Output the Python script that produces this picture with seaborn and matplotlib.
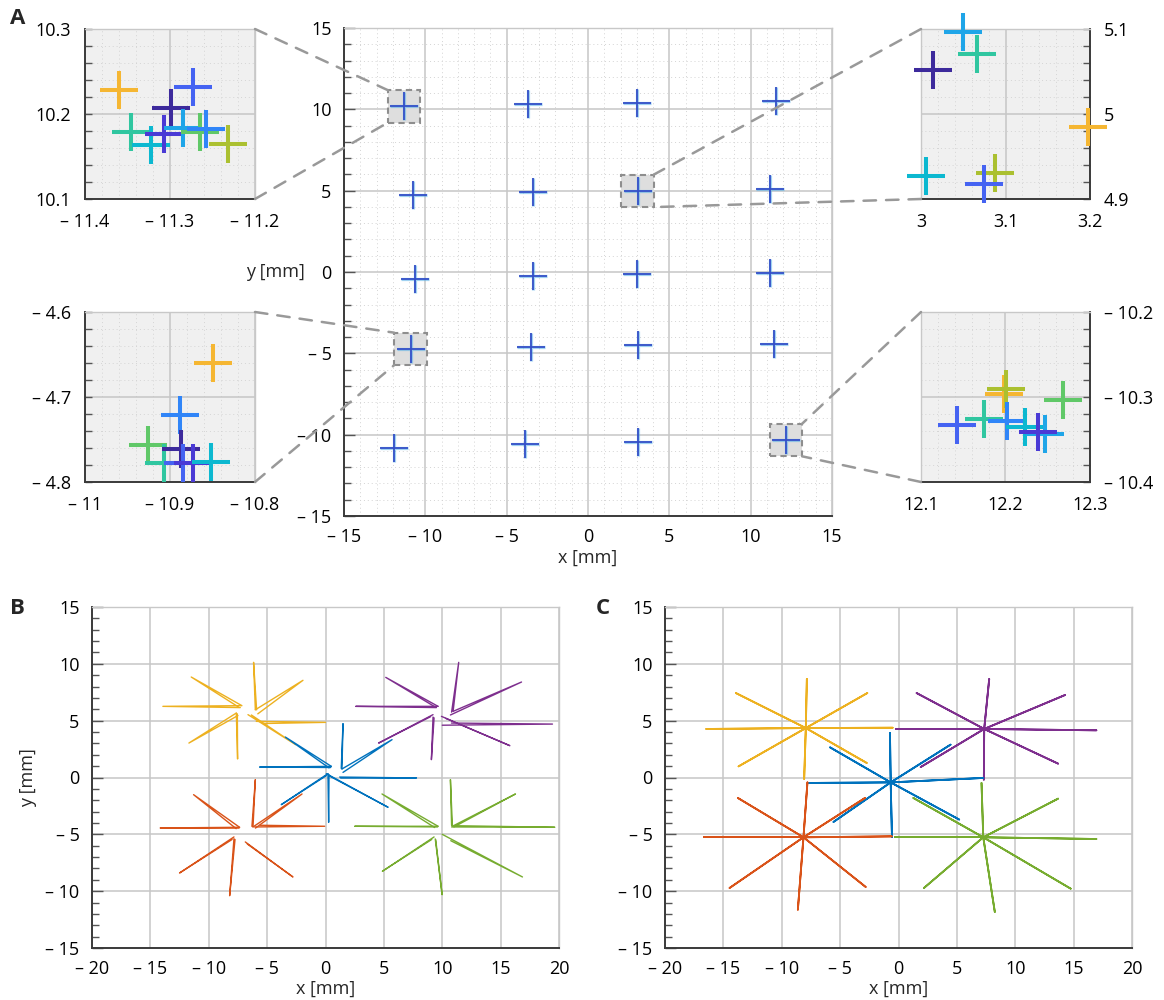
import numpy as np
import matplotlib
matplotlib.use("Agg")
import matplotlib.pyplot as plt
import seaborn as sns
import pandas as pd
from matplotlib.patches import Rectangle, ConnectionPatch
from matplotlib.ticker import MultipleLocator, FixedLocator, FuncFormatter

sns.set_theme(style="white")
plt.rcParams["font.family"] = ["Open Sans", "DejaVu Sans"]

# ---------------- data ----------------
# Panel A: mean positions of the 20 grid targets (mm)
grid_x = [-11.30, -3.71, 2.99, 11.54, -10.74, -3.40, 3.05, 11.19, -10.62, -3.40,
          2.99, 11.19, -10.90, -3.52, 3.05, 11.43, -11.93, -3.87, 3.09, 12.18]
grid_y = [10.18, 10.31, 10.39, 10.51, 4.73, 4.92, 5.00, 5.08, -0.43, -0.23,
          -0.14, -0.08, -4.76, -4.63, -4.49, -4.43, -10.84, -10.59, -10.43, -10.32]

# measurement colours (parula-like)
meas_colors = ["#3d2a9c", "#4a3ad5", "#4563f2", "#3085f8", "#1fa5e8",
               "#0cb8d0", "#30c6a0", "#60c868", "#abc030", "#f5b632"]

# zoomed groups: x, y, measurement index
tl_x = [-11.360, -11.346, -11.322, -11.307, -11.299, -11.285, -11.273, -11.265, -11.258, -11.232]
tl_y = [10.228, 10.179, 10.164, 10.176, 10.207, 10.184, 10.232, 10.179, 10.182, 10.165]
tl_c = [9, 6, 5, 1, 0, 4, 2, 7, 3, 8]

bl_x = [-10.849, -10.888, -10.926, -10.907, -10.887, -10.885, -10.873, -10.852]
bl_y = [-4.660, -4.721, -4.757, -4.778, -4.761, -4.778, -4.778, -4.776]
bl_c = [9, 3, 7, 6, 0, 2, 1, 5]

tr_x = [3.050, 3.066, 3.014, 3.198, 3.006, 3.088, 3.075]
tr_y = [5.097, 5.071, 5.052, 4.985, 4.927, 4.931, 4.918]
tr_c = [4, 6, 0, 9, 5, 8, 2]

br_x = [12.198, 12.201, 12.268, 12.174, 12.143, 12.202, 12.223, 12.247, 12.239]
br_y = [-10.297, -10.291, -10.303, -10.326, -10.333, -10.328, -10.335, -10.343, -10.341]
br_c = [9, 8, 7, 6, 2, 3, 5, 4, 1]

# zoom-box centres in panel A main plot
box_cx = [-11.31, 3.05, -10.92, 12.16]
box_cy = [10.18, 4.99, -4.73, -10.33]

star_colors = {"blue": "#0072BD", "red": "#D95319", "yellow": "#EDB120",
               "purple": "#7E2F8E", "green": "#77AC30"}

# Panel B: each ray = start -> tip -> return (x and y lists per star)
B_yellow_sx = [-6.01, -6.01, -5.93, -6.64, -7.64, -7.64, -7.21, -7.16]
B_yellow_sy = [5.96, 5.96, 4.94, 5.53, 5.67, 5.67, 6.32, 6.32]
B_yellow_tx = [-6.16, -1.93, 0.00, -2.56, -7.53, -11.70, -13.93, -11.50]
B_yellow_ty = [10.13, 8.55, 4.85, 2.89, 1.63, 3.03, 6.26, 8.84]
B_yellow_rx = [-5.90, -5.80, -5.30, -6.35, -7.55, -7.50, -7.30, -7.45]
B_yellow_ry = [5.95, 5.60, 4.75, 5.50, 5.60, 5.45, 6.15, 6.20]

B_purple_sx = [10.93, 10.93, 10.79, 9.93, 9.21, 9.21, 9.64, 9.64]
B_purple_sy = [5.82, 5.82, 4.79, 5.38, 5.32, 5.53, 6.26, 6.26]
B_purple_tx = [11.41, 16.79, 19.44, 15.79, 9.07, 4.55, 2.59, 5.16]
B_purple_ty = [10.13, 8.40, 4.70, 2.80, 1.57, 3.03, 6.26, 8.81]
B_purple_rx = [10.80, 10.70, 10.00, 10.30, 9.30, 9.00, 9.50, 9.40]
B_purple_ry = [5.75, 5.50, 4.60, 5.20, 5.25, 5.35, 6.15, 6.20]

B_blue_sx = [1.41, 1.41, 1.21, 0.07, 0.21, 0.21, 0.50, 0.50]
B_blue_sy = [0.75, 0.75, 0.04, 0.34, 0.34, 0.34, 0.98, 0.98]
B_blue_tx = [1.50, 5.70, 7.79, 5.36, 0.27, -3.79, -5.64, -3.44]
B_blue_ty = [4.74, 3.33, -0.04, -2.62, -3.94, -2.39, 0.92, 3.56]
B_blue_rx = [1.35, 1.50, 1.30, 0.30, 0.30, 0.05, 0.45, 0.30]
B_blue_ry = [0.80, 0.45, -0.05, 0.15, 0.25, 0.15, 0.88, 0.85]

B_red_sx = [-6.21, -6.21, -6.07, -6.87, -7.84, -7.84, -7.36, -7.36]
B_red_sy = [-4.35, -4.35, -4.35, -5.67, -5.38, -5.23, -4.38, -4.38]
B_red_tx = [-6.01, -2.01, -0.07, -2.79, -8.21, -12.50, -14.16, -11.30]
B_red_ty = [-0.19, -1.45, -4.29, -8.75, -10.40, -8.40, -4.44, -1.51]
B_red_rx = [-6.30, -6.00, -5.60, -6.70, -7.75, -8.00, -7.40, -7.65]
B_red_ry = [-4.30, -4.45, -4.20, -5.85, -5.45, -5.45, -4.45, -4.50]

B_green_sx = [10.87, 10.87, 11.07, 10.73, 9.44, 9.30, 9.64, 9.64]
B_green_sy = [-4.29, -4.29, -4.24, -5.56, -5.47, -5.23, -4.29, -4.29]
B_green_tx = [10.70, 16.27, 19.64, 16.87, 9.99, 4.87, 2.50, 4.84]
B_green_ty = [-0.19, -1.45, -4.38, -8.75, -10.31, -8.25, -4.29, -1.45]
B_green_rx = [10.80, 11.00, 10.80, 10.00, 9.40, 9.10, 9.60, 9.35]
B_green_ry = [-4.20, -4.35, -4.35, -5.00, -5.40, -5.45, -4.35, -4.40]

# Panel C: centre and tips of each star
C_yellow_c = (-7.94, 4.35)
C_yellow_tx = [-7.85, -2.67, -0.50, -2.72, -8.08, -13.70, -16.47, -13.93]
C_yellow_ty = [8.67, 7.43, 4.38, 1.28, -0.13, 0.98, 4.27, 7.43]
C_purple_c = (7.34, 4.27)
C_purple_tx = [7.77, 14.27, 16.95, 13.67, 7.31, 1.90, -0.21, 1.55]
C_purple_ty = [8.67, 7.26, 4.15, 1.22, -0.19, 0.92, 4.27, 7.43]
C_blue_c = (-0.67, -0.43)
C_blue_tx = [-0.73, 4.46, 7.26, 5.20, -0.56, -5.57, -7.71, -5.86]
C_blue_ty = [3.91, 2.89, -0.04, -3.70, -5.23, -3.91, -0.48, 2.65]
C_red_c = (-8.14, -5.26)
C_red_tx = [-7.80, -2.87, -0.58, -2.81, -8.62, -14.47, -16.64, -13.76]
C_red_ty = [-0.43, -1.80, -5.18, -9.63, -11.63, -9.72, -5.26, -1.80]
C_green_c = (7.26, -5.26)
C_green_tx = [7.11, 13.67, 16.95, 14.75, 8.25, 2.18, -0.30, 1.27]
C_green_ty = [-0.48, -1.86, -5.41, -9.78, -11.83, -9.72, -5.26, -1.80]

# ---------------- helpers ----------------
W, H = 1164, 1000
fig = plt.figure(figsize=(W / 100, H / 100), dpi=100)


def rect(x0, y0, x1, y1):
    return [x0 / W, 1 - y1 / H, (x1 - x0) / W, (y1 - y0) / H]


def fmt(v, pos=None):
    s = "%g" % round(abs(v), 6)
    return ("\u2013 " + s) if v < -1e-9 else s


DARK = "#3a3a3a"
LIGHT = "#c8c8c8"
FS = 13


def style(ax, xlim, ylim, xt, yt, xminor, yminor, face="white", dotted=True,
          right=False, pad=9):
    ax.set_facecolor(face)
    ax.set_xlim(xlim)
    ax.set_ylim(ylim)
    ax.xaxis.set_major_locator(FixedLocator(xt))
    ax.yaxis.set_major_locator(FixedLocator(yt))
    ax.xaxis.set_minor_locator(MultipleLocator(xminor))
    ax.yaxis.set_minor_locator(MultipleLocator(yminor))
    ax.xaxis.set_major_formatter(FuncFormatter(fmt))
    ax.yaxis.set_major_formatter(FuncFormatter(fmt))
    ax.grid(True, which="major", color="#c6c6c6", lw=1.1, ls="-")
    if dotted:
        ax.grid(True, which="minor", color="#d4d4d4", lw=0.7, ls=(0, (1, 3)))
    ax.set_axisbelow(True)
    for sp in ax.spines.values():
        sp.set_color(LIGHT)
        sp.set_linewidth(1.0)
        sp.set_visible(True)
    ax.spines["bottom"].set_color(DARK)
    ax.spines["bottom"].set_linewidth(1.4)
    side = "right" if right else "left"
    ax.spines[side].set_color(DARK)
    ax.spines[side].set_linewidth(1.4)
    if right:
        ax.yaxis.tick_right()
    ax.tick_params(which="both", direction="in", color="#555555", labelsize=FS,
                   labelcolor="black", pad=pad, top=False,
                   left=not right, right=right)
    ax.tick_params(which="major", length=8, width=1.0)
    ax.tick_params(which="minor", length=5, width=1.0)
    ax.set_xlabel("")
    ax.set_ylabel("")


# ---------------- Panel A ----------------
axA = fig.add_axes(rect(344, 28, 832, 516))
style(axA, (-15, 15), (-15, 15), [-15, -10, -5, 0, 5, 10, 15],
      [-15, -10, -5, 0, 5, 10, 15], 1, 1)
for cx, cy in zip(box_cx, box_cy):
    axA.add_patch(Rectangle((cx - 1.0, cy - 1.0), 2.0, 2.0, facecolor="#dedede",
                            edgecolor="#8e8e8e", lw=1.5, ls=(0, (3, 2)), zorder=2))
sns.scatterplot(x=grid_x, y=grid_y, marker="+", s=380, color="#55aee6",
                linewidth=2.3, alpha=0.55, ax=axA, legend=False, zorder=3)
sns.scatterplot(x=grid_x, y=grid_y, marker="+", s=380, color="#3450c8",
                linewidth=1.3, ax=axA, legend=False, zorder=4)
axA.set_xlabel("x [mm]", fontsize=FS, labelpad=2)
axA.text(-0.14, 0.5, "y [mm]", transform=axA.transAxes, fontsize=FS,
         ha="center", va="center")

insets = [
    (rect(85, 29, 255, 199), (-11.4, -11.2), (10.1, 10.3), [-11.4, -11.3, -11.2], [10.1, 10.2, 10.3],
     tl_x, tl_y, tl_c, False, [(1, 1), (1, 0)], [(-1, 1), (-1, -1)], 0),
    (rect(85, 312, 255, 482), (-11.0, -10.8), (-4.8, -4.6), [-11.0, -10.9, -10.8], [-4.8, -4.7, -4.6],
     bl_x, bl_y, bl_c, False, [(1, 1), (1, 0)], [(-1, 1), (-1, -1)], 2),
    (rect(921, 29, 1090, 199), (3.0, 3.2), (4.9, 5.1), [3.0, 3.1, 3.2], [4.9, 5.0, 5.1],
     tr_x, tr_y, tr_c, True, [(0, 1), (0, 0)], [(1, 1), (1, -1)], 1),
    (rect(921, 312, 1090, 482), (12.1, 12.3), (-10.4, -10.2), [12.1, 12.2, 12.3], [-10.4, -10.3, -10.2],
     br_x, br_y, br_c, True, [(0, 1), (0, 0)], [(1, 1), (1, -1)], 3),
]
for r, xl, yl, xt, yt, xs, ys, cs, right, cA, cB, bi in insets:
    ax = fig.add_axes(r)
    style(ax, xl, yl, xt, yt, 0.02, 0.02, face="#f0f0f0", right=right, pad=10)
    ax.tick_params(which="major", length=5)
    df = pd.DataFrame({"x": xs, "y": ys, "m": cs})
    for _, row in df.iterrows():
        sns.scatterplot(x=[row.x], y=[row.y], marker="+", s=740,
                        color=meas_colors[int(row.m)], linewidth=2.9,
                        ax=ax, legend=False, clip_on=False, zorder=5)
    ax.set_xlim(xl)
    ax.set_ylim(yl)
    for (fa, (sx, sy)) in zip(cA, cB):
        con = ConnectionPatch(xyA=fa, coordsA=ax.transAxes,
                              xyB=(box_cx[bi] + sx * 1.0, box_cy[bi] + sy * 1.0),
                              coordsB=axA.transData, color="#999999", lw=1.8,
                              ls=(0, (5, 4)), zorder=10)
        fig.add_artist(con)

# ---------------- Panels B and C ----------------
def star_df_B(sx, sy, tx, ty, rx, ry):
    rows = []
    for i in range(len(sx)):
        for k, (x, y) in enumerate([(sx[i], sy[i]), (tx[i], ty[i]), (rx[i], ry[i])]):
            rows.append({"x": x, "y": y, "u": i, "o": k})
    return pd.DataFrame(rows)


def star_df_C(c, tx, ty):
    rows = []
    for i in range(len(tx)):
        for k, (x, y) in enumerate([c, (tx[i], ty[i]), c]):
            rows.append({"x": x, "y": y, "u": i, "o": k})
    return pd.DataFrame(rows)


axB = fig.add_axes(rect(92, 607, 559, 948))
axC = fig.add_axes(rect(665, 607, 1132, 948))
for ax in (axB, axC):
    style(ax, (-20, 20), (-15, 15), [-20, -15, -10, -5, 0, 5, 10, 15, 20],
          [-15, -10, -5, 0, 5, 10, 15], 1, 1, dotted=False)

B_sets = [
    ("yellow", B_yellow_sx, B_yellow_sy, B_yellow_tx, B_yellow_ty, B_yellow_rx, B_yellow_ry),
    ("purple", B_purple_sx, B_purple_sy, B_purple_tx, B_purple_ty, B_purple_rx, B_purple_ry),
    ("blue", B_blue_sx, B_blue_sy, B_blue_tx, B_blue_ty, B_blue_rx, B_blue_ry),
    ("red", B_red_sx, B_red_sy, B_red_tx, B_red_ty, B_red_rx, B_red_ry),
    ("green", B_green_sx, B_green_sy, B_green_tx, B_green_ty, B_green_rx, B_green_ry),
]
for name, sx, sy, tx, ty, rx, ry in B_sets:
    df = star_df_B(sx, sy, tx, ty, rx, ry)
    sns.lineplot(data=df, x="x", y="y", units="u", estimator=None, sort=False,
                 color=star_colors[name], lw=1.0, ax=axB, legend=False)

C_sets = [
    ("yellow", C_yellow_c, C_yellow_tx, C_yellow_ty),
    ("purple", C_purple_c, C_purple_tx, C_purple_ty),
    ("blue", C_blue_c, C_blue_tx, C_blue_ty),
    ("red", C_red_c, C_red_tx, C_red_ty),
    ("green", C_green_c, C_green_tx, C_green_ty),
]
for name, c, tx, ty in C_sets:
    df = star_df_C(c, tx, ty)
    sns.lineplot(data=df, x="x", y="y", units="u", estimator=None, sort=False,
                 color=star_colors[name], lw=1.3, ax=axC, legend=False)

for ax in (axB, axC):
    ax.set_xlim(-20, 20)
    ax.set_ylim(-15, 15)
    ax.set_xlabel("x [mm]", fontsize=FS, labelpad=1)
    ax.set_ylabel("")
axB.set_ylabel("y [mm]", fontsize=FS, labelpad=6)

fig.text(10 / W, 1 - 8 / H, "A", fontsize=16, fontweight="bold", va="top", ha="left")
fig.text(10 / W, 1 - 598 / H, "B", fontsize=16, fontweight="bold", va="top", ha="left")
fig.text(596 / W, 1 - 598 / H, "C", fontsize=16, fontweight="bold", va="top", ha="left")

fig.savefig("out.png", dpi=100)
